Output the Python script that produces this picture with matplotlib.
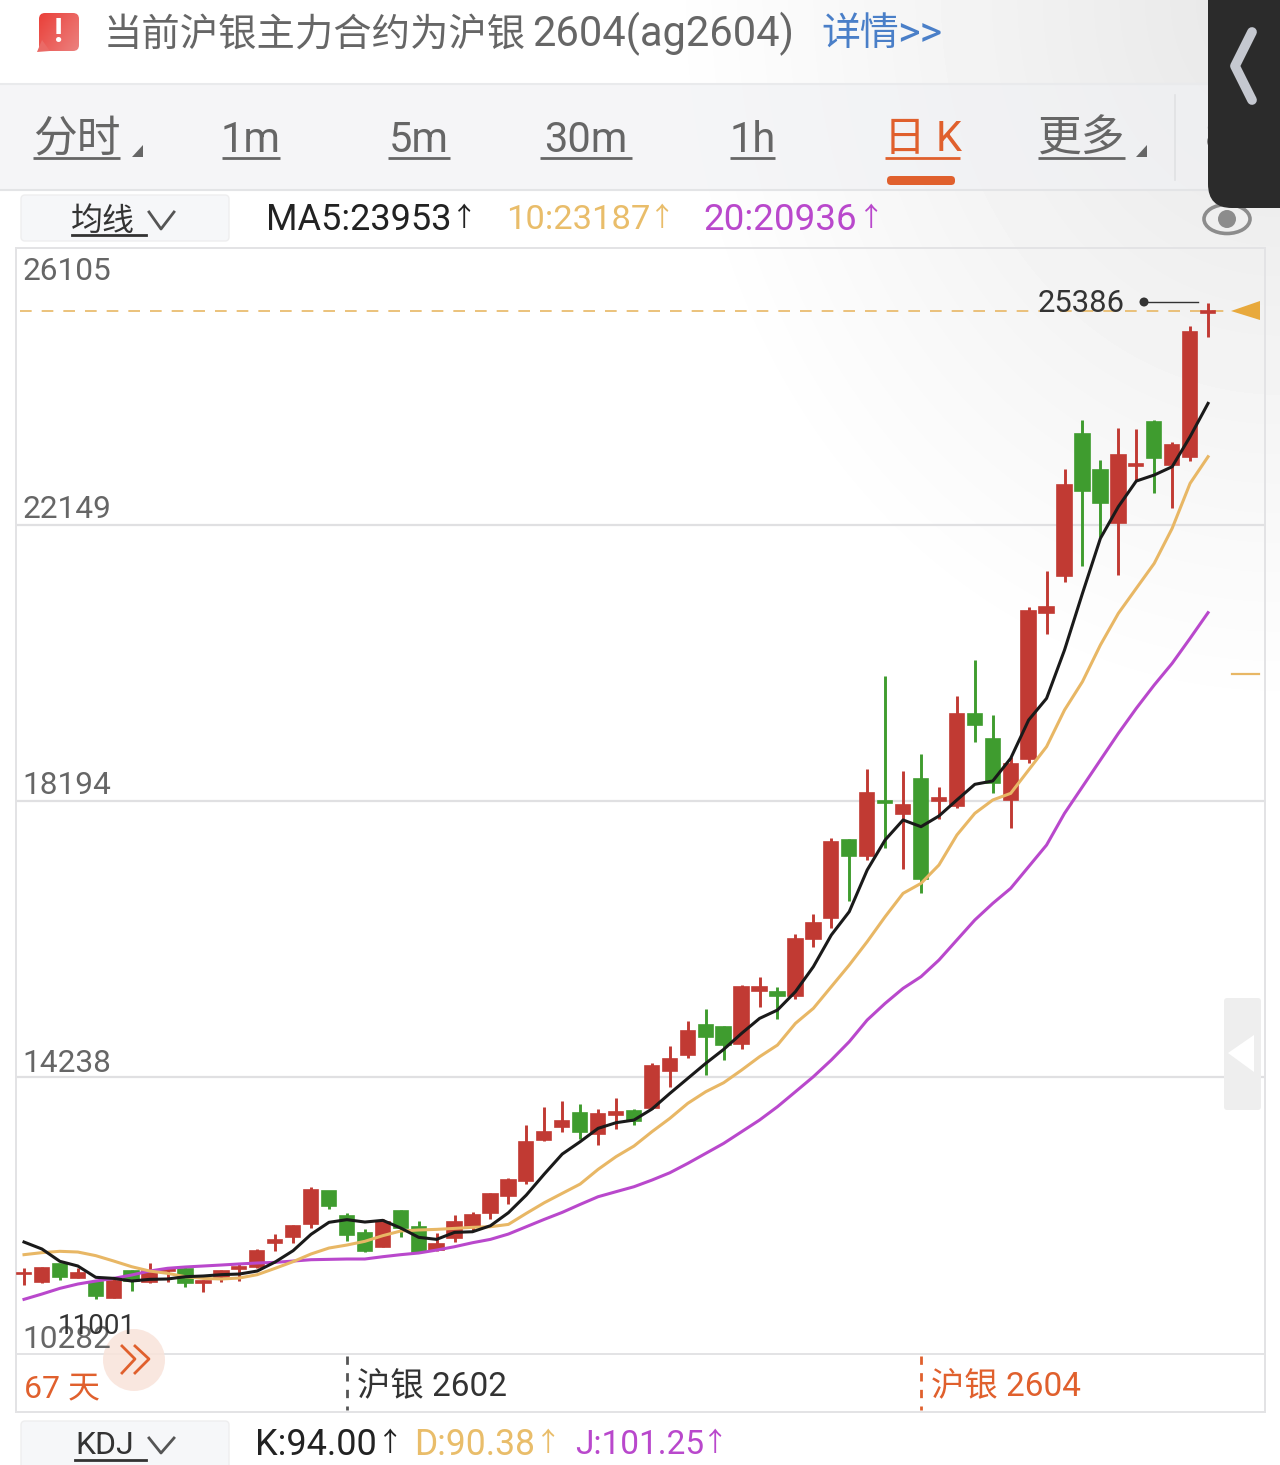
import numpy as np
import matplotlib
matplotlib.use("Agg")
import matplotlib.pyplot as plt
from matplotlib.patches import FancyBboxPatch, Polygon, Circle, Ellipse, Rectangle

plt.rcParams['font.family'] = ['Roboto', 'Noto Sans CJK SC', 'DejaVu Sans']

# DATA
y_ticks = [26105, 22149, 18194, 14238, 10282]

opens = [11431, 11312, 11565, 11374, 11312, 11088, 11469, 11312, 11465, 11503, 11293, 11379, 11493, 11522,
         11865, 11956, 12142, 12609, 12256, 12018, 11817, 12333, 12104, 11769, 11946, 12118, 12294, 12542,
         12761, 13343, 13524, 13725, 13424, 13696, 13758, 13801, 14335, 14555, 14993, 14965, 14721, 15470,
         15461, 15403, 16219, 16524, 17631, 17406, 18198, 18002, 18508, 18198, 18126, 19438, 19085, 18203,
         18799, 20878, 21412, 23439, 22933, 22166, 22986, 23611, 23005, 23115, 25170]
closes = [11445, 11517, 11388, 11436, 11112, 11326, 11326, 11474, 11503, 11298, 11321, 11465, 11527, 11760,
          11918, 12113, 12628, 12399, 11984, 11751, 12175, 12080, 11741, 11850, 12165, 12270, 12566, 12771,
          13315, 13458, 13610, 13458, 13715, 13739, 13620, 14397, 14507, 14907, 14821, 14698, 15527, 15537,
          15408, 16219, 16443, 17607, 17406, 18312, 18170, 18131, 17082, 18241, 19433, 19281, 18455, 18718,
          20916, 20973, 22719, 22633, 22452, 23143, 23015, 23096, 23286, 24903, 25199]
highs = [11507, 11531, 11565, 11517, 11341, 11350, 11484, 11579, 11531, 11541, 11341, 11484, 11565, 11779,
         12003, 12123, 12676, 12619, 12294, 12070, 12209, 12342, 12185, 12017, 12265, 12318, 12580, 12795,
         13558, 13820, 13896, 13853, 13782, 13949, 13791, 14440, 14688, 15050, 15213, 14974, 15565, 15680,
         15527, 16290, 16577, 17664, 17645, 18646, 19982, 18627, 18861, 18394, 19695, 20211, 19424, 18828,
         20964, 21484, 22948, 23639, 23072, 23530, 23520, 23639, 23334, 24989, 25323]
lows = [11269, 11293, 11341, 11364, 11064, 11078, 11183, 11302, 11307, 11245, 11164, 11312, 11326, 11508,
        11755, 11865, 12089, 12352, 11903, 11741, 11808, 11960, 11722, 11760, 11889, 12046, 12208, 12427,
        12714, 13334, 13462, 13353, 13272, 13505, 13553, 13787, 14106, 14516, 14273, 14488, 14645, 15251,
        15069, 15365, 16109, 16372, 16762, 17349, 17516, 17216, 16882, 17931, 18088, 19042, 18312, 17812,
        18742, 20582, 21331, 21555, 21975, 21426, 22786, 22604, 22380, 23062, 24827]

ma5 = [11884, 11784, 11608, 11541, 11379, 11364, 11326, 11350, 11355, 11388, 11398, 11417, 11426, 11469,
       11598, 11760, 11994, 12166, 12204, 12170, 12194, 12084, 11951, 11922, 12022, 12031, 12117, 12303,
       12556, 12856, 13142, 13319, 13510, 13591, 13629, 13786, 14010, 14225, 14440, 14640, 14869, 15083,
       15203, 15465, 15823, 16276, 16610, 17206, 17636, 17922, 17826, 17979, 18208, 18432, 18480, 18804,
       19352, 19662, 20354, 21164, 21951, 22404, 22771, 22857, 22976, 23406, 23882]
ma10 = [11703, 11732, 11751, 11741, 11689, 11612, 11531, 11469, 11436, 11388, 11364, 11355, 11369, 11417,
        11508, 11603, 11713, 11798, 11841, 11894, 11975, 12042, 12056, 12065, 12079, 12094, 12103, 12136,
        12294, 12446, 12580, 12713, 12923, 13105, 13257, 13462, 13653, 13868, 14034, 14163, 14344, 14535,
        14702, 15012, 15227, 15537, 15847, 16181, 16538, 16872, 17015, 17278, 17707, 18017, 18208, 18303,
        18637, 18971, 19495, 19901, 20425, 20878, 21236, 21593, 22094, 22738, 23119]
ma20 = [11064, 11140, 11221, 11283, 11326, 11364, 11412, 11469, 11508, 11527, 11541, 11555, 11570, 11584,
        11593, 11612, 11631, 11636, 11641, 11641, 11674, 11703, 11727, 11769, 11817, 11874, 11922, 11998,
        12103, 12208, 12308, 12422, 12532, 12604, 12675, 12770, 12875, 13009, 13152, 13295, 13462, 13629,
        13820, 14034, 14249, 14488, 14750, 15060, 15298, 15513, 15680, 15918, 16205, 16491, 16729, 16944,
        17254, 17564, 18017, 18398, 18780, 19161, 19519, 19853, 20163, 20521, 20888]

current_price = 25210
high_label = 25386
low_label = 11001
contract_idx = [18, 50]

tabs = ["分时", "1m", "5m", "30m", "1h", "日 K", "更多"]

# COLOURS
RED = "#c13a33"
GREEN = "#3f9c2f"
ORANGE = "#e8b765"
MAGENTA = "#b948cc"
TAB_ORANGE = "#e0602d"
GREY = "#666666"

W, H = 1280, 1465
fig = plt.figure(figsize=(W / 100, H / 100), dpi=100)


def add_px_axes(z):
    a = fig.add_axes([0, 0, 1, 1], zorder=z)
    a.set_xlim(0, W)
    a.set_ylim(H, 0)
    a.axis("off")
    a.patch.set_alpha(0)
    return a


# BACKGROUND
bg = add_px_axes(0)
xx, yy = np.meshgrid(np.arange(W), np.arange(H))
d = np.sqrt(((W - xx) / 620.0) ** 2 + (yy / 720.0) ** 2)
shade = 0.905 + 0.095 * np.clip(d, 0, 1)
bg.imshow(shade, cmap="gray", vmin=0, vmax=1, extent=(0, W, H, 0), aspect="auto", zorder=0)
bg.set_xlim(0, W)
bg.set_ylim(H, 0)
bg.add_patch(Rectangle((0, 84), W, 106, fc="#f0f1f4", ec="none", alpha=0.65, zorder=1))
bg.plot([0, W], [84, 84], color="#e9eaec", lw=1.5, zorder=2)
bg.plot([0, W], [190, 190], color="#e3e4e6", lw=1.5, zorder=2)

# CHART
chart_left, chart_right, chart_top, chart_bottom = 16, 1265, 248, 1354
x0, step = 24.0, 17.94
ax = fig.add_axes([chart_left / W, 1 - chart_bottom / H, (chart_right - chart_left) / W,
                   (chart_bottom - chart_top) / H], zorder=1)
ax.patch.set_alpha(0)
ax.set_xlim((chart_left - x0) / step, (chart_right - x0) / step)
ax.set_ylim(y_ticks[-1], y_ticks[0])
ax.set_xticks([])
ax.set_yticks([])
for s in ax.spines.values():
    s.set_color("#e3e3e5")
    s.set_linewidth(1.4)
for t in y_ticks[1:-1]:
    ax.axhline(t, color="#e0e0e2", lw=1.6, zorder=1)

idx = np.arange(len(opens))
o = np.array(opens)
c = np.array(closes)
colors = [RED if c[i] >= o[i] else GREEN for i in idx]
ax.vlines(idx, lows, highs, colors=colors, lw=2.1, zorder=2)
ax.bar(idx, np.abs(c - o), bottom=np.minimum(o, c), width=0.8, color=colors, edgecolor=colors, lw=1.2, zorder=3)
ax.plot(idx, ma20, color=MAGENTA, lw=2.2, zorder=4)
ax.plot(idx, ma10, color=ORANGE, lw=2.2, zorder=5)
ax.plot(idx, ma5, color="#1a1a1a", lw=2.2, zorder=6)
ax.axhline(current_price, xmin=0.003, xmax=0.972, color=ORANGE, lw=1.2, dashes=(7, 6), zorder=2)

# UI ON TOP
ui = add_px_axes(2)


def txt(x, y, s, size, color="#333333", ha="left", **kw):
    ui.text(x, y, s, fontsize=size, color=color, ha=ha, va="center", **kw)


# alert banner
icon = FancyBboxPatch((39, 13), 40, 38, boxstyle="round,pad=0,rounding_size=6", fc="none", ec="none")
ui.add_patch(icon)
grad = np.linspace(0, 1, 60)[None, :] * 0.6 + np.linspace(0, 1, 60)[:, None] * 0.4
icon_im = ui.imshow(grad, cmap=matplotlib.colors.LinearSegmentedColormap.from_list("al", ["#ea3d36", "#ec8583"]),
                    extent=(37, 81, 53, 12), aspect="auto", zorder=2)
icon_im.set_clip_path(icon)
ui.set_xlim(0, W)
ui.set_ylim(H, 0)
ui.add_patch(Polygon([[37, 52], [42, 40], [50, 51]], fc="#ea6a66", ec="none", zorder=2))
txt(59, 33, "!", 24, color="white", ha="center", fontweight="bold", zorder=3)
txt(104, 35, "当前沪银主力合约为沪银", 27.6, color="#666666")
txt(532, 34, "2604(ag2604)", 30, color="#666666")
txt(821, 35, "详情", 28, color="#4a7fc8")
txt(897, 35, ">>", 31, color="#4a7fc8")

# tab row
tab_x = [(33, 120), (222, 280), (388, 450), (540, 632), (730, 775), (885, 960), (1038, 1125)]
for name, (a, b) in zip(tabs, tab_x):
    col = TAB_ORANGE if name == "日 K" else "#666666"
    size = 31.5 if name in ("分时", "更多") else 30
    txt((a + b) / 2, 140, name, size, color=col, ha="center")
    ui.plot([a, b], [158, 158], color=col, lw=2.0, solid_capstyle="butt")
for tx in (143, 1147):
    ui.add_patch(Polygon([[tx - 11, 157], [tx, 157], [tx, 145]], fc="#666666", ec="none"))
ui.add_patch(FancyBboxPatch((887, 176), 68, 9, boxstyle="round,pad=0,rounding_size=4", fc=TAB_ORANGE, ec="none"))
ui.plot([1175, 1175], [95, 180], color="#e0e1e3", lw=1.2)
txt(1205, 138, "8", 30, color="#666666")

# MA row
ui.add_patch(FancyBboxPatch((21, 195), 208, 46, boxstyle="round,pad=0,rounding_size=4", fc="#f6f7f9", ec="#eeeeef", lw=1))
txt(103, 221, "均线", 23, ha="center", color="#333333")
ui.plot([72, 146], [235, 235], color="#333333", lw=2)
ui.plot([149, 161, 174], [212, 229, 212], color="#555555", lw=2)
for x, s, size, x_arrow, col in [(266, "MA5:23953", 26, 464, "#222222"), (506, "10:23187", 24.8, 662, "#e9bd6a"),
                                 (703, "20:20936", 26.5, 871, MAGENTA)]:
    txt(x, 220, s, size, color=col)
    txt(x_arrow, 219, "↑", 19, color=col, ha="center")

# eye icon
ui.add_patch(Ellipse((1227, 219), 46, 29, fc="none", ec="#8c8c8c", lw=2.6))
ui.add_patch(Circle((1227, 219), 9, fc="#8c8c8c", ec="none"))

# y labels
for t, y in zip(y_ticks, [271, 509, 786, 1063, 1339]):
    txt(22, y, str(t), 22.8, color=GREY)

# high/low marks
txt(1038, 304, str(high_label), 22.3, color="#333333")
ui.add_patch(Circle((1144, 302), 4.5, fc="#333333", ec="none"))
ui.plot([1144, 1198], [302, 302], color="#333333", lw=1)
txt(58, 1327, str(low_label), 20, color="#333333")

# right hand markers
ui.add_patch(Polygon([[1231, 311], [1260, 301], [1260, 320]], fc="#e8a93c", ec="none"))
ui.plot([1232, 1259], [674, 674], color="#e8b765", lw=1.6)
ui.add_patch(FancyBboxPatch((1224, 998), 37, 112, boxstyle="round,pad=0,rounding_size=3", fc="#eeeeee", ec="none"))
ui.add_patch(Polygon([[1228, 1053], [1254, 1035], [1254, 1072]], fc="white", ec="none"))

# contract strip
ui.plot([16, 1265], [1412, 1412], color="#e3e3e5", lw=1.4)
ui.plot([16, 16], [1354, 1412], color="#e3e3e5", lw=1.4)
ui.plot([1265, 1265], [1354, 1412], color="#e3e3e5", lw=1.4)
ui.add_patch(Circle((134, 1360), 31, fc="#f9e3da", ec="none", alpha=0.85))
ui.plot([122, 135, 122], [1346, 1359, 1373], color=TAB_ORANGE, lw=2)
ui.plot([135, 149, 135], [1346, 1359, 1373], color=TAB_ORANGE, lw=2)
txt(24, 1389, "67 天", 23, color=TAB_ORANGE)
for i, label, col in zip(contract_idx, ["沪银 2602", "沪银 2604"], ["#333333", TAB_ORANGE]):
    px = x0 + step * i
    ui.plot([px, px], [1356, 1410], color="#555555" if i == contract_idx[0] else TAB_ORANGE, lw=2, dashes=(3, 3))
    txt(px + 10, 1386, label, 24, color=col)

# KDJ row
ui.add_patch(FancyBboxPatch((21, 1421), 208, 60, boxstyle="round,pad=0,rounding_size=4", fc="#f6f7f9", ec="#eeeeef", lw=1))
txt(105, 1446, "KDJ", 23, ha="center", color="#333333")
ui.plot([75, 146], [1460, 1460], color="#333333", lw=2)
ui.plot([149, 161, 174], [1438, 1453, 1438], color="#555555", lw=2)
for x, s, size, x_arrow, col in [(255, "K:94.00", 26, 390, "#222222"), (414, "D:90.38", 25.6, 548, "#e9bd6a"),
                                 (575, "J:101.25", 24, 715, MAGENTA)]:
    txt(x, 1445, s, size, color=col)
    txt(x_arrow, 1444, "↑", 19, color=col, ha="center")

# dark overlay, top right
ui.add_patch(FancyBboxPatch((1208, -40), 120, 248, boxstyle="round,pad=0,rounding_size=24", fc="#2b2b2b", ec="none", zorder=8))
ui.plot([1252, 1235, 1252], [32, 66, 100], color="#c5c8d0", lw=7, solid_capstyle="round", zorder=9)

fig.savefig("out.png", dpi=100)
